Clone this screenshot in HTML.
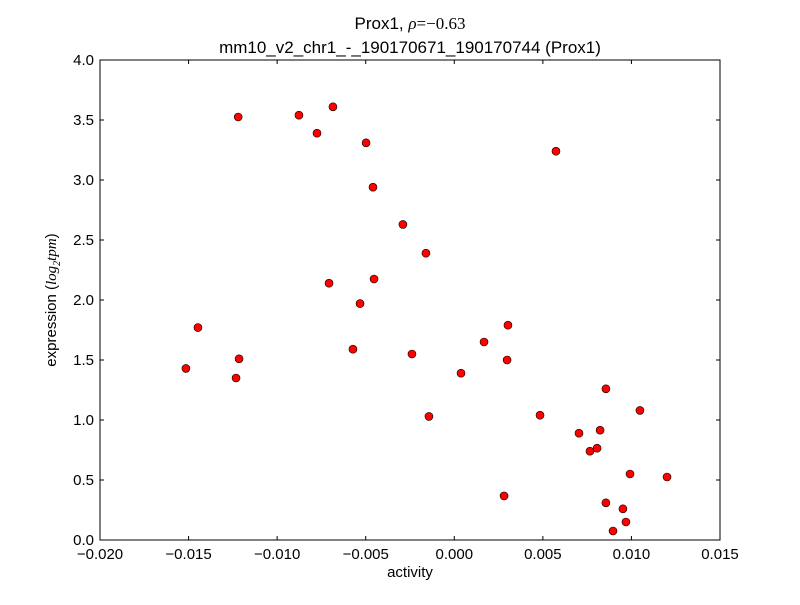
<!DOCTYPE html>
<html><head><meta charset="utf-8"><style>
body{margin:0;background:#fff;}
svg text{font-family:"Liberation Sans",sans-serif;fill:#000;}
</style></head><body>
<svg id="chart" width="800" height="600" xmlns="http://www.w3.org/2000/svg">
<rect width="800" height="600" fill="#fff"/>
<g>
<text x="410" y="29" font-size="17" text-anchor="middle">Prox1, <tspan font-family="Liberation Serif" font-style="italic">ρ</tspan><tspan font-family="Liberation Serif">=−0.63</tspan></text>
<text x="410" y="53" font-size="17" text-anchor="middle">mm10_v2_chr1_-_190170671_190170744 (Prox1)</text>
</g>
<g id="points"></g>
<g id="axes"></g>
<text x="410" y="577" font-size="15" text-anchor="middle">activity</text>
<text transform="translate(56,300) rotate(-90)" font-size="15" text-anchor="middle">expression (<tspan font-family="Liberation Serif" font-style="italic">log</tspan><tspan font-family="Liberation Serif" font-style="italic" font-size="10" dy="4">2</tspan><tspan font-family="Liberation Serif" font-style="italic" dy="-4">tpm</tspan>)</text>
</svg>
<script>
const xs=[-0.0122,-0.00877,-0.00775,-0.00685,-0.00498,-0.00459,0.00574,-0.0029,-0.0016,-0.00707,-0.00453,-0.00532,-0.01447,-0.01215,-0.01515,-0.01232,-0.00572,-0.00239,0.00168,0.00303,0.00298,0.00038,-0.00143,0.00484,0.00856,0.01048,0.00704,0.00823,0.00806,0.00766,0.00992,0.01201,0.00281,0.00856,0.00952,0.00969,0.00896];
const ys=[3.525,3.54,3.39,3.61,3.31,2.94,3.24,2.63,2.39,2.14,2.175,1.97,1.77,1.51,1.43,1.35,1.59,1.55,1.65,1.79,1.50,1.39,1.03,1.04,1.26,1.08,0.89,0.915,0.765,0.74,0.55,0.525,0.367,0.31,0.26,0.15,0.075];
const xTicks=[-0.020,-0.015,-0.010,-0.005,0.000,0.005,0.010,0.015];
const xTickLabels=["−0.020","−0.015","−0.010","−0.005","0.000","0.005","0.010","0.015"];
const yTicks=[0,0.5,1,1.5,2,2.5,3,3.5,4];
const yTickLabels=["0.0","0.5","1.0","1.5","2.0","2.5","3.0","3.5","4.0"];
const L=100,R=720,T=60,B=540,xmin=-0.02,xmax=0.015,ymin=0,ymax=4;
const X=v=>L+(v-xmin)/(xmax-xmin)*(R-L);
const Y=v=>B-(v-ymin)/(ymax-ymin)*(B-T);
const NS="http://www.w3.org/2000/svg";
function mk(t,a,p){const e=document.createElementNS(NS,t);for(const k in a)e.setAttribute(k,a[k]);p.appendChild(e);return e;}
const pts=document.getElementById('points');
xs.forEach((x,i)=>{const c=mk('circle',{cx:X(x),cy:Y(ys[i]),r:4,fill:'#ff0000',stroke:'#000','stroke-width':0.6},pts);

});
const ax=document.getElementById('axes');


const fr=mk('rect',{x:L,y:T,width:R-L,height:B-T,fill:'none',stroke:'#000','stroke-width':1},ax);


xTicks.forEach((v,i)=>{const x=X(v);
mk('line',{x1:x,x2:x,y1:B,y2:B-4,stroke:'#000'},ax);mk('line',{x1:x,x2:x,y1:T,y2:T+4,stroke:'#000'},ax);
const t=mk('text',{x:x,y:B+19,'font-size':15,'text-anchor':'middle'},ax);t.textContent=xTickLabels[i];

});
yTicks.forEach((v,i)=>{const y=Y(v);
mk('line',{x1:L,x2:L+4,y1:y,y2:y,stroke:'#000'},ax);mk('line',{x1:R,x2:R-4,y1:y,y2:y,stroke:'#000'},ax);
const t=mk('text',{x:L-6,y:y+5,'font-size':15,'text-anchor':'end'},ax);t.textContent=yTickLabels[i];

});
</script>
</body></html>
